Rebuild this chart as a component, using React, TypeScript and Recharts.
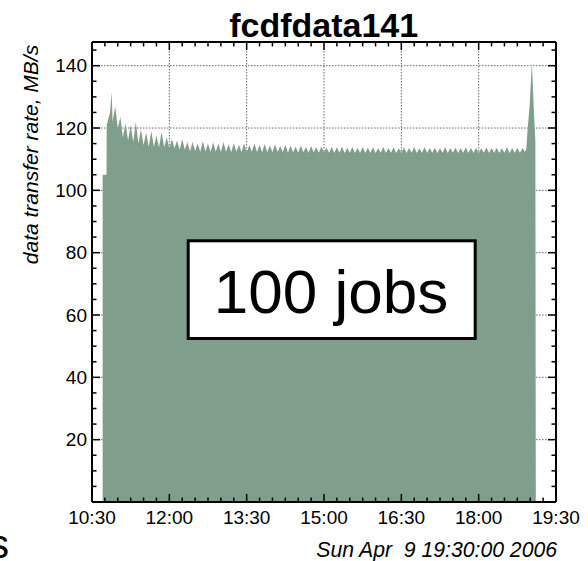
import React from "react";
import { AreaChart, Area, XAxis, YAxis, CartesianGrid } from "recharts";

// ---- data (minutes after 10:30, MB/s) ----
const headTimes = [12.4, 16.9, 17.1, 19, 21, 22.9];
const headRates = [105, 105, 121, 123, 125, 131.5];

const bodyStartMinute = 24;
const bodyStepMinutes = 3;
const bodyRates = [
  122, 127, 120, 123.5, 117, 121.5, 116, 121, 115.5, 122,
  115, 119.5, 114.5, 118.5, 114, 119, 114, 117.5, 113.8, 118.7,
  113.8, 117, 113.5, 116.5, 113.5, 116, 113, 116.5, 113, 115.5,
  112.5, 115.5, 112.6, 115, 112.4, 115.8, 112.5, 115, 112.3, 115.4,
  112.4, 115, 112.3, 115.5, 112.4, 114.8, 112.2, 115.2, 112.4, 114.6,
  112.3, 115, 112.2, 114.5, 112.4, 115.1, 112.3, 114.6, 112.2, 114.9,
  112.3, 114.4, 112.2, 114.8, 112.3, 114.2, 112.2, 114.6, 112.1, 114.3,
  112.2, 114, 112.1, 114.4, 112.2, 113.9, 112.1, 114.2, 112.2, 113.8,
  112.1, 114.1, 112.2, 113.7, 112.1, 114, 112.0, 113.8, 112.1, 114,
  112.0, 113.7, 112.1, 113.9, 112.0, 113.6, 112.1, 113.9, 112.0, 113.7,
  112.1, 113.8, 112.0, 113.5, 112.1, 113.9, 112.0, 113.6, 112.1, 113.8,
  112.0, 113.5, 112.1, 113.8, 112.0, 113.6, 112.1, 113.9, 112.0, 113.5,
  112.1, 113.8, 112.0, 113.6, 112.1, 113.7, 112.0, 113.5, 112.1, 113.8,
  112.0, 113.6, 112.1, 113.7, 112.0, 113.5, 112.1, 113.8, 112.0, 113.6,
  112.1, 113.7, 112.0, 113.5, 112.1, 113.8, 112.0, 113.6, 112.1, 113.7,
  112.0, 113.5, 112.1, 113.8, 112.0, 113.6, 112.1, 113.7, 112.0, 113.6,
  112.3,
];

const tailTimes = [505.5, 507, 509.5, 511.5, 512, 513, 514.5, 516, 516.5];
const tailRates = [113.5, 119.5, 128, 139, 140.5, 134, 124, 116, 0];

const xTicks = [
  0, 15, 30, 45, 60, 75, 90, 105, 120, 135, 150, 165, 180, 195, 210, 225, 240, 255,
  270, 285, 300, 315, 330, 345, 360, 375, 390, 405, 420, 435, 450, 465, 480, 495, 510, 525, 540,
];
const xGrid = [90, 180, 270, 360, 450];
const yTicks = [
  5, 10, 15, 20, 25, 30, 35, 40, 45, 50, 55, 60, 65, 70, 75, 80, 85, 90, 95, 100,
  105, 110, 115, 120, 125, 130, 135, 140, 145,
];
const yGrid = [20, 40, 60, 80, 100, 120, 140];

const title = "fcdfdata141";
const yLabel = "data transfer rate, MB/s";
const dateText = "Sun Apr  9 19:30:00 2006";
const boxText = "100 jobs";

const data: { t: number; v: number }[] = [];
headTimes.forEach((t, i) => data.push({ t, v: headRates[i] }));
bodyRates.forEach((v, i) => data.push({ t: bodyStartMinute + i * bodyStepMinutes, v }));
tailTimes.forEach((t, i) => data.push({ t, v: tailRates[i] }));

const FONT = "'Liberation Sans', Arial, Helvetica, sans-serif";

const fmtTime = (m: number) => {
  const total = 630 + m;
  const h = Math.floor(total / 60);
  const mm = total % 60;
  return `${h}:${mm < 10 ? "0" + mm : mm}`;
};

const BottomTick = (props: any) => {
  const { x, y, payload } = props;
  const major = payload.value % 90 === 0;
  return (
    <g>
      <line x1={x} y1={y} x2={x} y2={y - (major ? 8 : 4.5)} stroke="#000" strokeWidth={1.5} />
      {major && (
        <text x={x} y={y + 22} textAnchor="middle" fontFamily={FONT} fontSize={19} fill="#000">
          {fmtTime(payload.value)}
        </text>
      )}
    </g>
  );
};

const TopTick = (props: any) => {
  const { x, y, payload } = props;
  const major = payload.value % 90 === 0;
  return <line x1={x} y1={y} x2={x} y2={y + (major ? 8 : 4.5)} stroke="#000" strokeWidth={1.5} />;
};

const LeftTick = (props: any) => {
  const { x, y, payload } = props;
  const major = payload.value % 20 === 0;
  return (
    <g>
      <line x1={x} y1={y} x2={x + (major ? 8 : 4.5)} y2={y} stroke="#000" strokeWidth={1.5} />
      {major && (
        <text x={x - 5} y={y} dy="0.35em" textAnchor="end" fontFamily={FONT} fontSize={19} fill="#000">
          {payload.value}
        </text>
      )}
    </g>
  );
};

const RightTick = (props: any) => {
  const { x, y, payload } = props;
  const major = payload.value % 20 === 0;
  return <line x1={x} y1={y} x2={x - (major ? 8 : 4.5)} y2={y} stroke="#000" strokeWidth={1.5} />;
};

export default function App() {
  return (
    <div style={{ position: "absolute", left: 0, top: 0, width: 588, height: 561, background: "#fff" }}>
      <AreaChart
        width={588}
        height={561}
        data={data}
        margin={{ top: 32, right: 22, bottom: 29, left: 32 }}
      >
        <CartesianGrid
          xAxisId="b"
          yAxisId="l"
          stroke="#666"
          strokeDasharray="1.5 1.5"
          horizontalValues={yGrid}
          verticalValues={xGrid}
        />
        <Area
          xAxisId="b"
          yAxisId="l"
          type="linear"
          dataKey="v"
          stroke="none"
          fill="#7f9e8b"
          fillOpacity={1}
          dot={false}
          activeDot={false}
          isAnimationActive={false}
        />
        <XAxis
          xAxisId="b"
          dataKey="t"
          type="number"
          domain={[0, 540]}
          allowDataOverflow
          ticks={xTicks}
          interval={0}
          height={30}
          tickSize={0}
          tickMargin={0}
          tickLine={false}
          axisLine={{ stroke: "#000", strokeWidth: 2 }}
          tick={<BottomTick />}
        />
        <XAxis
          xAxisId="t"
          orientation="top"
          dataKey="t"
          type="number"
          domain={[0, 540]}
          allowDataOverflow
          ticks={xTicks}
          interval={0}
          height={10}
          tickSize={0}
          tickMargin={0}
          tickLine={false}
          axisLine={{ stroke: "#000", strokeWidth: 2 }}
          tick={<TopTick />}
        />
        <YAxis
          yAxisId="l"
          type="number"
          domain={[0, 147.6]}
          allowDataOverflow
          ticks={yTicks}
          interval={0}
          width={60}
          tickSize={0}
          tickMargin={0}
          tickLine={false}
          axisLine={{ stroke: "#000", strokeWidth: 2 }}
          tick={<LeftTick />}
        />
        <YAxis
          yAxisId="r"
          orientation="right"
          type="number"
          domain={[0, 147.6]}
          allowDataOverflow
          ticks={yTicks}
          interval={0}
          width={10}
          tickSize={0}
          tickMargin={0}
          tickLine={false}
          axisLine={{ stroke: "#000", strokeWidth: 2 }}
          tick={<RightTick />}
        />
      </AreaChart>
      <svg
        width={588}
        height={561}
        style={{ position: "absolute", left: 0, top: 0, pointerEvents: "none" }}
      >
        <text x={323.7} y={37} textAnchor="middle" fontFamily={FONT} fontWeight="bold" fontSize={34} fill="#000">
          {title}
        </text>
        <text
          transform="translate(38,154.5) rotate(-90)"
          textAnchor="middle"
          fontFamily={FONT}
          fontStyle="italic"
          fontSize={21}
          fill="#000"
        >
          {yLabel}
        </text>
        <rect x={188.2} y={240.8} width={287} height={97.7} fill="#fff" stroke="#000" strokeWidth={3} />
        <text x={331} y={313} textAnchor="middle" fontFamily={FONT} fontSize={62} fill="#000">
          {boxText}
        </text>
        <text x={557} y={557} textAnchor="end" fontFamily={FONT} fontStyle="italic" fontSize={21.2} fill="#000" style={{ whiteSpace: "pre" }}>
          {dateText}
        </text>
        <text x={9} y={558} textAnchor="end" fontFamily={FONT} fontSize={40} fill="#000">
          s
        </text>
      </svg>
    </div>
  );
}
